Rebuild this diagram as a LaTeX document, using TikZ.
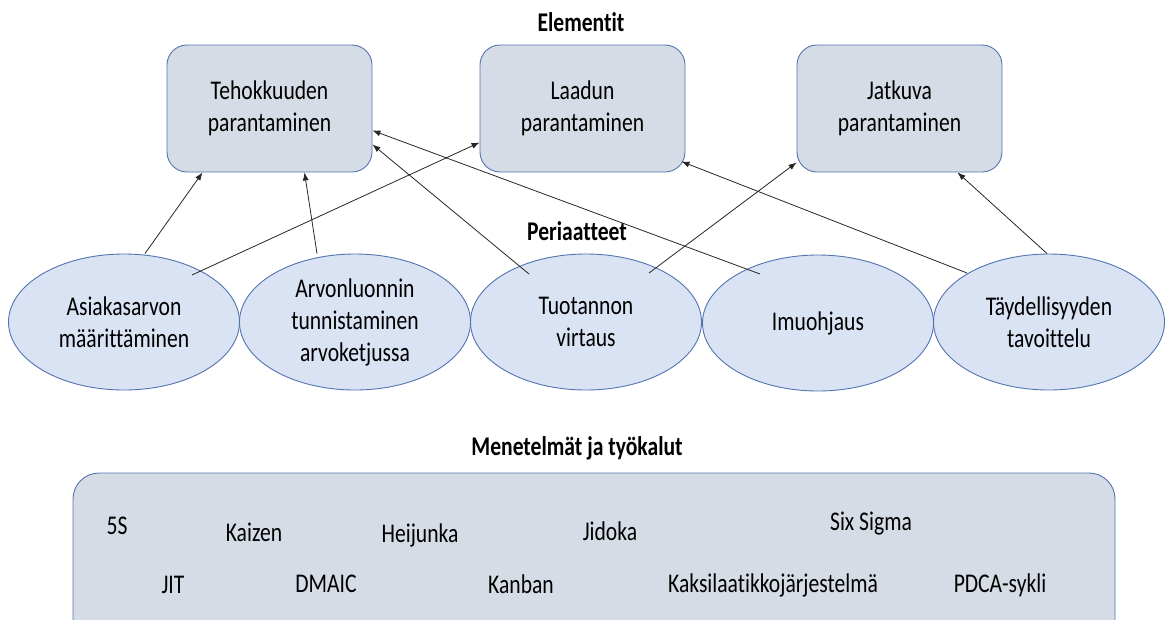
\documentclass[tikz,border=0pt]{standalone}
\usepackage{fontspec}
\setmainfont[FakeStretch=0.8, Ligatures=NoCommon]{Carlito}
\usetikzlibrary{arrows.meta,shapes.geometric}

\definecolor{boxFill}{HTML}{D6DCE5}
\definecolor{ellFill}{HTML}{DAE3F3}
\definecolor{edgeBlue}{HTML}{5274B0}

\def \lineWidth {0.9pt}
\def \textSize {\fontsize{27}{32}\selectfont}

\begin{document}
\begin{tikzpicture}[x=1pt, y=-1pt, text=black,
      element/.style={draw=edgeBlue, line width=\lineWidth, fill=boxFill, rounded corners=20pt,
         minimum width=205pt, minimum height=127pt, align=center, font=\textSize},
      principle/.style={ellipse, draw=edgeBlue, line width=\lineWidth, fill=ellFill, inner sep=0pt,
         minimum width=231pt, minimum height=136pt, align=center, font=\textSize},
      heading/.style={anchor=base, font=\textSize\bfseries},
      tool/.style={anchor=base, font=\textSize},
      link/.style={-{Latex[length=8pt,width=6pt]}, line width=0.8pt, draw=black!85}]
      \useasboundingbox (0,0) rectangle (1166,619);
      \clip (0,0) rectangle (1166,619);

      % elementit
      \node[heading] (hElem) at (581,31) {Elementit};
      \node[element] (b1) at (269.5,108.5) {Tehokkuuden\\parantaminen};
      \node[element] (b2) at (582.5,108.5) {Laadun\\parantaminen};
      \node[element] (b3) at (899.5,108.5) {Jatkuva\\parantaminen};

      % periaatteet
      \node[heading] (hPrin) at (577,240) {Periaatteet};
      \node[principle] (e1) at (124,322) {Asiakasarvon\\määrittäminen};
      \node[principle] (e2) at (355,322) {Arvonluonnin\\tunnistaminen\\arvoketjussa};
      \node[principle] (e3) at (586,322) {Tuotannon\\virtaus};
      \node[principle] (e4) at (818,323) {Imuohjaus};
      \node[principle] (e5) at (1049,322) {Täydellisyyden\\tavoittelu};

      \draw[link] ([xshift=21pt]e1.north) -- ([xshift=-67pt]b1.south);
      \draw[link] ([shift={(68pt,47pt)}]e1.center) -- ([yshift=-34pt]b2.west);
      \draw[link] ([xshift=-38pt]e2.north) -- ([xshift=35pt]b1.south);
      \draw[link] ([shift={(-57pt,48pt)}]e3.center) -- ([yshift=-36pt]b1.east);
      \draw[link] ([shift={(-58pt,49pt)}]e4.center) -- ([yshift=-22pt]b1.east);
      \draw[link] ([shift={(63pt,49pt)}]e3.center) -- ([yshift=-54pt]b3.west);
      \draw[link] ([shift={(-82pt,49pt)}]e5.center) -- ([shift={(-4pt,-53pt)}]b2.east);
      \draw[link] ([xshift=-2pt]e5.north) -- ([xshift=58pt]b3.south);

      % menetelmät ja työkalut
      \node[heading] (hTools) at (577,455) {Menetelmät ja työkalut};
      \node[draw=edgeBlue, line width=\lineWidth, fill=boxFill, rounded corners=26pt,
         minimum width=1042pt, minimum height=180pt] (tools) at (594,563) {};
      \node[tool] (t5s) at (117,534) {5S};
      \node[tool] (tKaizen) at (254,541) {Kaizen};
      \node[tool] (tHeijunka) at (420,542) {Heijunka};
      \node[tool] (tJidoka) at (610,540) {Jidoka};
      \node[tool] (tSixSigma) at (871,530) {Six Sigma};
      \node[tool] (tJit) at (173,593) {JIT};
      \node[tool] (tDmaic) at (326,592) {DMAIC};
      \node[tool] (tKanban) at (521,593) {Kanban};
      \node[tool] (tKaksi) at (773,592) {Kaksilaatikkojärjestelmä};
      \node[tool] (tPdca) at (1000,592) {PDCA-sykli};
   \end{tikzpicture}
\end{document}
